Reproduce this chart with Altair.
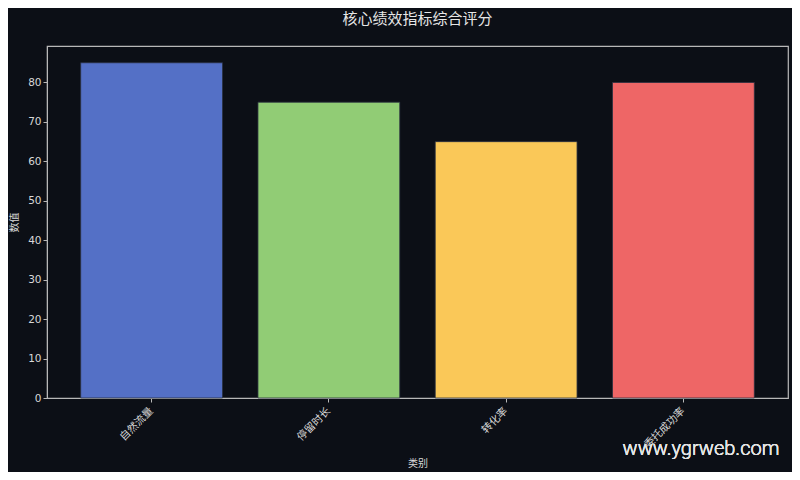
import altair as alt
import pandas as pd

categories = ["自然流量", "停留时长", "转化率", "委托成功率"]
values = [85, 75, 65, 80]
colors = ["#5470c6", "#91cc75", "#fac858", "#ee6666"]
y_ticks = [0, 10, 20, 30, 40, 50, 60, 70, 80]

df = pd.DataFrame({"类别": categories, "数值": values})

FONT = "DejaVu Sans, Noto Sans CJK SC, sans-serif"
BG = "#0c0f16"

bars = alt.Chart(df).mark_bar(
    stroke="#2a3040", strokeWidth=0.8
).encode(
    x=alt.X("类别:N", sort=categories,
            scale=alt.Scale(paddingInner=0.2, paddingOuter=0.19),
            axis=alt.Axis(title="类别", labelAngle=315, labelAlign="right",
                          labelBaseline="middle", labelPadding=7,
                          titlePadding=8)),
    y=alt.Y("数值:Q", scale=alt.Scale(domain=[0, 89.25], nice=False),
            axis=alt.Axis(title="数值", values=y_ticks, grid=False,
                          titlePadding=8)),
    color=alt.Color("类别:N", sort=categories,
                    scale=alt.Scale(domain=categories, range=colors),
                    legend=None),
)

watermark = alt.Chart(df).mark_text(
    text="www.ygrweb.com", fontSize=20, font="Roboto", fontWeight=300,
    color="#e4e4e4", align="center", baseline="middle"
).encode(x=alt.value(654), y=alt.value(403))

chart = alt.layer(bars, watermark).properties(
    width=741, height=352,
    title=alt.TitleParams("核心绩效指标综合评分", fontSize=15, font=FONT,
                          fontWeight="normal", color="#e6e6e6", offset=19),
    autosize=alt.AutoSizeParams(type="none"),
    padding={"left": 39, "top": 38, "right": 4, "bottom": 74},
    background=BG,
).configure_view(
    stroke="#b8b8b8", strokeWidth=1.2, fill=BG
).configure_axis(
    labelFont=FONT, titleFont=FONT, labelColor="#d8d8d8", titleColor="#d8d8d8",
    labelFontSize=10.5, titleFontSize=10, titleFontWeight="normal",
    domainColor="#b8b8b8", tickColor="#b8b8b8", tickSize=4,
)

chart.save("out.html", embed_options={"renderer": "svg", "actions": False})
